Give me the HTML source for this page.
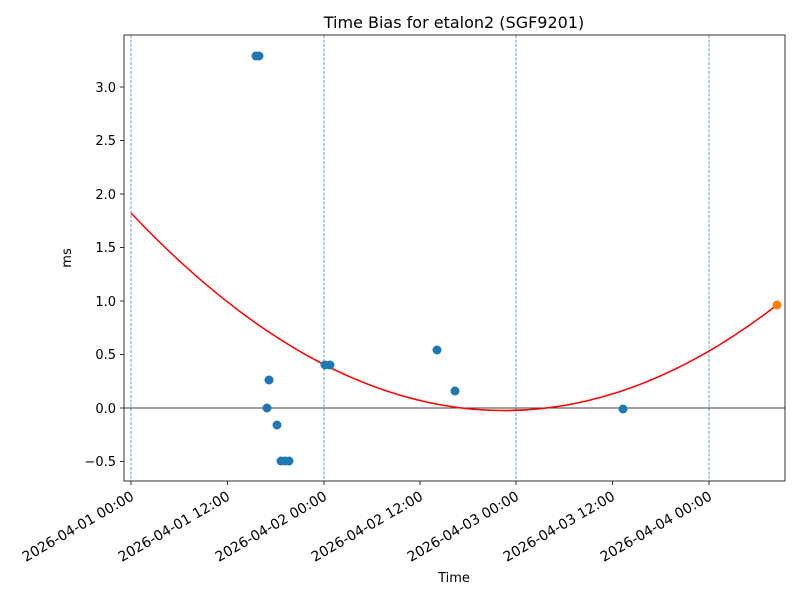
<!DOCTYPE html>
<html><head><meta charset="utf-8"><style>body{margin:0;background:#fff}</style></head><body>
<svg width="800" height="600" xmlns="http://www.w3.org/2000/svg" font-family="DejaVu Sans, Liberation Sans, sans-serif">
<rect width="800" height="600" fill="#fff"/>
<text x="454" y="28" font-size="16" text-anchor="middle">Time Bias for etalon2 (SGF9201)</text>
<g stroke="#1f77b4" stroke-width="0.7" stroke-dasharray="3,1.5">
<line x1="131" y1="35" x2="131" y2="481"/><line x1="324" y1="35" x2="324" y2="481"/>
<line x1="516" y1="35" x2="516" y2="481"/><line x1="709" y1="35" x2="709" y2="481"/>
</g>
<line x1="124" y1="408" x2="785" y2="408" stroke="#000" stroke-width="0.7"/>
<path d="M131,213 Q454,555 777,305" fill="none" stroke="red" stroke-width="1.5"/>
<g fill="#1f77b4">
<circle cx="256" cy="56" r="4.5"/><circle cx="259" cy="56" r="4.5"/><circle cx="269" cy="380" r="4.5"/>
<circle cx="267" cy="408" r="4.5"/><circle cx="277" cy="425" r="4.5"/><circle cx="281" cy="461" r="4.5"/>
<circle cx="285" cy="461" r="4.5"/><circle cx="289" cy="461" r="4.5"/><circle cx="325" cy="365" r="4.5"/>
<circle cx="330" cy="365" r="4.5"/><circle cx="437" cy="350" r="4.5"/><circle cx="455" cy="391" r="4.5"/>
<circle cx="623" cy="409" r="4.5"/>
</g>
<circle cx="777" cy="305" r="4.5" fill="#ff7f0e"/>
<rect x="124" y="35" width="661" height="446" fill="none" stroke="#000" stroke-width="0.8"/>
<g stroke="#000" stroke-width="0.8">
<line x1="120" y1="461.5" x2="124" y2="461.5"/><line x1="120" y1="408" x2="124" y2="408"/>
<line x1="120" y1="354.5" x2="124" y2="354.5"/><line x1="120" y1="301" x2="124" y2="301"/>
<line x1="120" y1="247.5" x2="124" y2="247.5"/><line x1="120" y1="194" x2="124" y2="194"/>
<line x1="120" y1="140.5" x2="124" y2="140.5"/><line x1="120" y1="87" x2="124" y2="87"/>
<line x1="131" y1="481" x2="131" y2="485"/><line x1="227.5" y1="481" x2="227.5" y2="485"/>
<line x1="324" y1="481" x2="324" y2="485"/><line x1="420" y1="481" x2="420" y2="485"/>
<line x1="516" y1="481" x2="516" y2="485"/><line x1="612.5" y1="481" x2="612.5" y2="485"/>
<line x1="709" y1="481" x2="709" y2="485"/>
</g>
<g font-size="13" text-anchor="end">
<text x="116" y="466">−0.5</text><text x="116" y="413">0.0</text><text x="116" y="359">0.5</text>
<text x="116" y="306">1.0</text><text x="116" y="252">1.5</text><text x="116" y="199">2.0</text>
<text x="116" y="145">2.5</text><text x="116" y="92">3.0</text>
</g>
<g font-size="14" text-anchor="end">
<text transform="translate(135,499) rotate(-30)">2026-04-01 00:00</text>
<text transform="translate(231,499) rotate(-30)">2026-04-01 12:00</text>
<text transform="translate(328,499) rotate(-30)">2026-04-02 00:00</text>
<text transform="translate(424,499) rotate(-30)">2026-04-02 12:00</text>
<text transform="translate(520,499) rotate(-30)">2026-04-03 00:00</text>
<text transform="translate(616,499) rotate(-30)">2026-04-03 12:00</text>
<text transform="translate(713,499) rotate(-30)">2026-04-04 00:00</text>
</g>
<text x="454" y="582" font-size="13" text-anchor="middle">Time</text>
<text transform="translate(71,258) rotate(-90)" font-size="13" text-anchor="middle">ms</text>
</svg>
</body></html>
